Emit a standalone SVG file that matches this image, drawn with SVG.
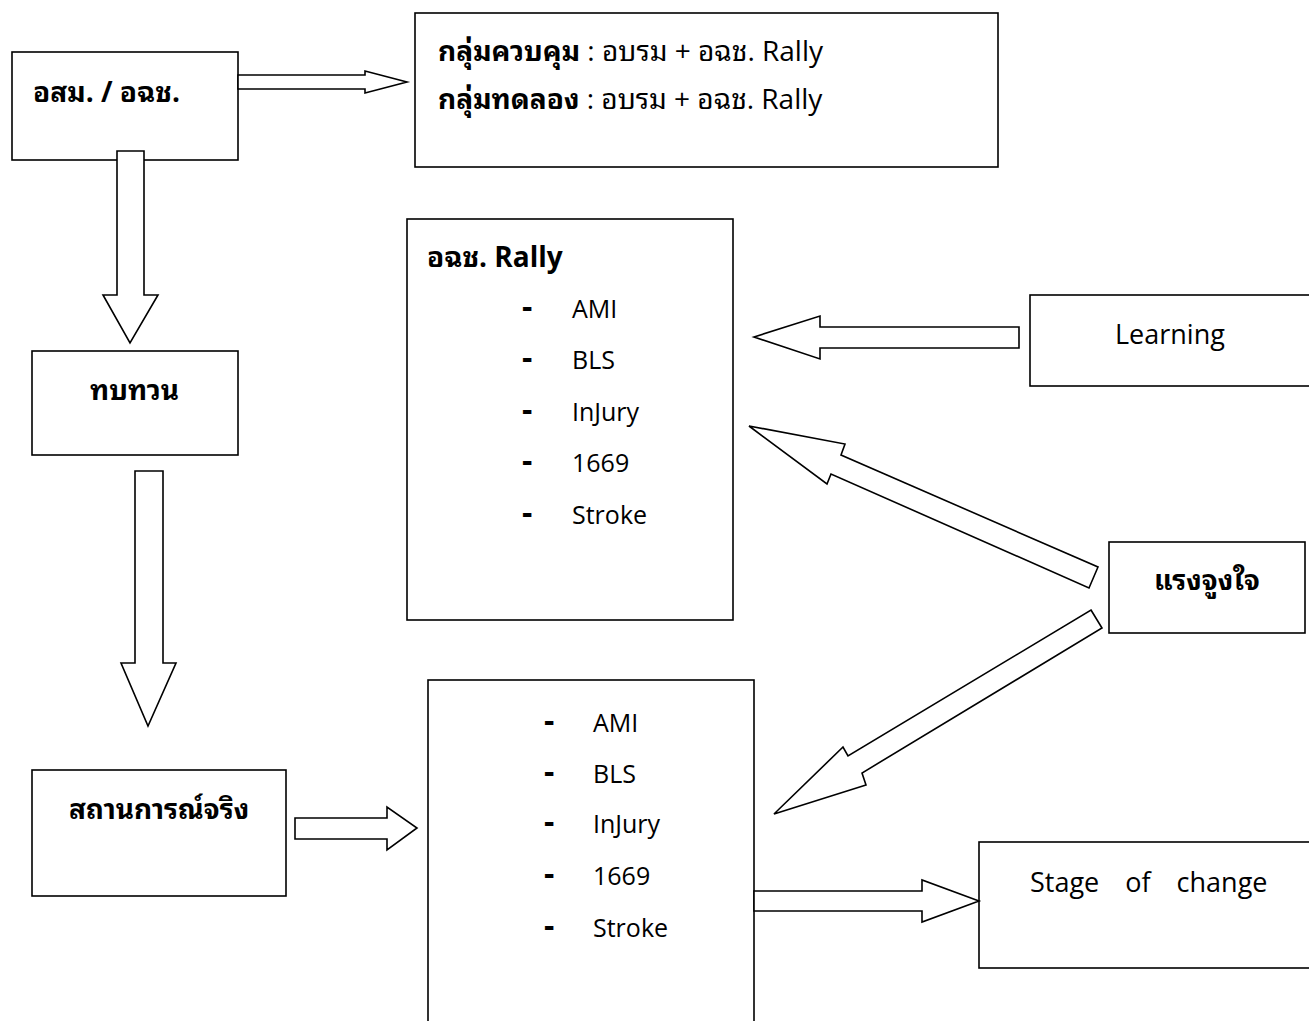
<svg xmlns="http://www.w3.org/2000/svg" width="1309" height="1021" viewBox="0 0 1309 1021">
<style>
.box{fill:#fff;stroke:#000;stroke-width:1.6}
.arr{fill:#fff;stroke:#000;stroke-width:1.6;stroke-linejoin:miter}
text{font-family:"Open Sans","Noto Sans Thai Looped","Noto Sans Thai","Noto Sans",sans-serif;fill:#000}
.t{font-size:28px}
.b{font-weight:bold}
.li{font-size:25px}
.d{font-size:32px;font-weight:bold}
</style>
<rect width="1309" height="1021" fill="#fff"/>
<g id="n-asm">
<rect class="box" x="12" y="52" width="226" height="108"/>
<text class="t b" x="33" y="102">อสม. / อฉช.</text>
</g>
<g id="n-groups">
<rect class="box" x="415" y="13" width="583" height="154"/>
<text class="t" x="438" y="61"><tspan class="b">กลุ่มควบคุม</tspan> : อบรม + อฉช. Rally</text>
<text class="t" x="438" y="109"><tspan class="b">กลุ่มทดลอง</tspan> : อบรม + อฉช. Rally</text>
</g>
<g id="n-review">
<rect class="box" x="32" y="351" width="206" height="104"/>
<text class="t b" x="90" y="400">ทบทวน</text>
</g>
<g id="n-real">
<rect class="box" x="32" y="770" width="254" height="126"/>
<text class="t b" x="69" y="819">สถานการณ์จริง</text>
</g>
<g id="n-rally">
<rect class="box" x="407" y="219" width="326" height="401"/>
<text class="t b" x="427" y="267">อฉช. Rally</text>
<text class="d" x="522" y="318">-</text><text class="li" x="572" y="318">AMI</text>
<text class="d" x="522" y="369">-</text><text class="li" x="572" y="369">BLS</text>
<text class="d" x="522" y="421">-</text><text class="li" x="572" y="421">InJury</text>
<text class="d" x="522" y="472">-</text><text class="li" x="572" y="472">1669</text>
<text class="d" x="522" y="524">-</text><text class="li" x="572" y="524">Stroke</text>
</g>
<g id="n-learning">
<rect class="box" x="1030" y="295" width="300" height="91"/>
<text class="t" x="1115" y="344" style="font-size:27px">Learning</text>
</g>
<g id="n-motivation">
<rect class="box" x="1109" y="542" width="196" height="91"/>
<text class="t b" x="1154" y="590">แรงจูงใจ</text>
</g>
<g id="n-topics">
<rect class="box" x="428" y="680" width="326" height="360"/>
<text class="d" x="544" y="732">-</text><text class="li" x="593" y="732">AMI</text>
<text class="d" x="544" y="783">-</text><text class="li" x="593" y="783">BLS</text>
<text class="d" x="544" y="833">-</text><text class="li" x="593" y="833">InJury</text>
<text class="d" x="544" y="885">-</text><text class="li" x="593" y="885">1669</text>
<text class="d" x="544" y="937">-</text><text class="li" x="593" y="937">Stroke</text>
</g>
<g id="n-stage">
<rect class="box" x="979" y="842" width="350" height="126"/>
<text class="t" x="1030" y="892" style="font-size:27px;word-spacing:19px">Stage of change</text>
</g>
<g id="connectors">
<polygon class="arr" points="238,75 365,75 365,71 407,82 365,93 365,89 238,89"/>
<polygon class="arr" points="117,151 144,151 144,295 158,295 130,343 103,295 117,295"/>
<polygon class="arr" points="135,471 163,471 163,663 176,663 148,726 121,663 135,663"/>
<polygon class="arr" points="295,818 387,818 387,807 417,828 387,850 387,839 295,839"/>
<polygon class="arr" points="1019,327 820,327 820,316 754,337 820,359 820,348 1019,348"/>
<polygon class="arr" points="749,426 845,444 841,455 1098,567 1089,588 831,474 827,484"/>
<polygon class="arr" points="1091,610 1102,628 862,773 866,785 774,814 843,747 848,756"/>
<polygon class="arr" points="754,891 922,891 922,880 979,901 922,922 922,911 754,911"/>
</g>
</svg>
